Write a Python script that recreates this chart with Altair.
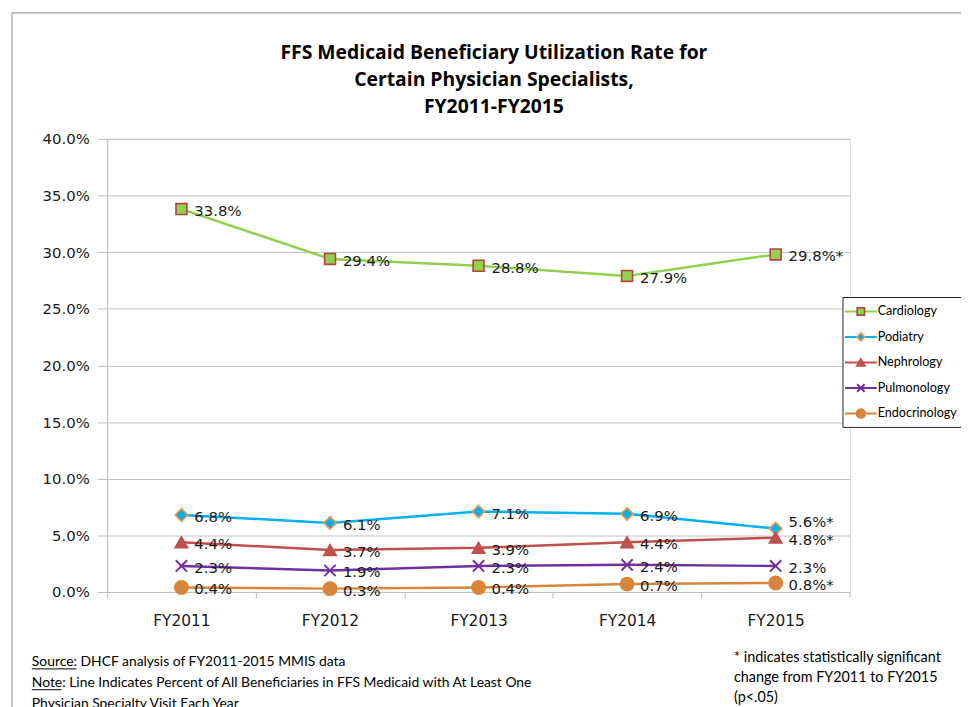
import altair as alt
import pandas as pd

# ---------------- data ----------------
years = ["FY2011", "FY2012", "FY2013", "FY2014", "FY2015"]
series = ["Cardiology", "Podiatry", "Nephrology", "Pulmonology", "Endocrinology"]
cardiology = [33.8, 29.4, 28.8, 27.9, 29.8]
podiatry = [6.8, 6.1, 7.1, 6.9, 5.6]
nephrology = [4.4, 3.7, 3.9, 4.4, 4.8]
pulmonology = [2.3, 1.9, 2.3, 2.4, 2.3]
endocrinology = [0.4, 0.3, 0.4, 0.7, 0.8]
significant = [True, True, True, False, True]   # change FY2011 -> FY2015 (p<.05)
y_ticks = [0, 5, 10, 15, 20, 25, 30, 35, 40]

title_lines = ["FFS Medicaid Beneficiary Utilization Rate for",
               "Certain Physician Specialists,",
               "FY2011-FY2015"]
source_lines = ["Source: DHCF analysis of FY2011-2015 MMIS data",
                "Note: Line Indicates Percent of All Beneficiaries in FFS Medicaid with At Least One",
                "Physician Specialty Visit Each Year"]
star_lines = ["* indicates statistically significant",
              "change from FY2011 to FY2015",
              "(p<.05)"]

# ---------------- styles ----------------
line_colors = ["#92D050", "#00B0F0", "#C0504D", "#7030A0", "#D8853B"]
marker_fill = ["#92D050", "#00B0F0", "#C0504D", None, "#D8853B"]
marker_stroke = ["#B5433F", "#F79646", "#C0504D", "#7030A0", "#D8853B"]
marker_shape = ["square", "diamond", "triangle-up", "M-1,-1L1,1M-1,1L1,-1", "circle"]
marker_size = [121, 160, 160, 130, 180]
legend_marker_size = [56, 64, 70, 56, 80]

W, H = 749, 457
GRID = "#BFBFBF"
LABEL_FONT = "DejaVu Sans"
NOTE_FONT = "Lato"
TITLE_FONT = "Open Sans"

values = [cardiology, podiatry, nephrology, pulmonology, endocrinology]
rows = []
for s, vals in zip(series, values):
    for j, (yr, v) in enumerate(zip(years, vals)):
        star = "*" if (j == len(years) - 1 and significant[series.index(s)]) else ""
        rows.append({"series": s, "year": yr, "value": v,
                     "label": f"{v:.1f}%{star}"})
df = pd.DataFrame(rows)
ldf = pd.DataFrame({"series": series})
one = pd.DataFrame({"k": [0]})

color_enc = alt.Color("series:N", scale=alt.Scale(domain=series, range=line_colors), legend=None)

x_enc = alt.X("year:O", sort=years, title=None,
              scale=alt.Scale(type="point", padding=0.5),
              axis=alt.Axis(labelAngle=0, tickOffset=-W / 10, labelOffset=W / 10,
                            domainColor=GRID, tickColor=GRID, tickSize=6,
                            labelPadding=16, labelFont=LABEL_FONT, labelFontSize=15.5,
                            labelColor="#1a1a1a", grid=False))
y_enc = alt.Y("value:Q", title=None,
              scale=alt.Scale(domain=[0, 40], nice=False, zero=True),
              axis=alt.Axis(values=y_ticks, labelExpr="format(datum.value, '.1f') + '%'",
                            domainColor=GRID, tickColor=GRID, gridColor=GRID,
                            tickSize=10, labelPadding=8, labelFont=LABEL_FONT,
                            labelFontSize=15, labelColor="#1a1a1a", grid=True))

lines = alt.Chart(df).mark_line(strokeWidth=2.5).encode(
    x=x_enc, y=y_enc, color=color_enc, detail="series:N")


def marker_kw(i, size):
    kw = dict(shape=marker_shape[i], size=size, opacity=1,
              stroke=marker_stroke[i], strokeWidth=1.6 if i != 3 else 2)
    if marker_fill[i] is None:
        kw.update(filled=False, fill=None)
    else:
        kw.update(filled=True, fill=marker_fill[i])
    return kw


marker_layers = [
    alt.Chart(df).transform_filter(alt.datum.series == s)
    .mark_point(**marker_kw(i, marker_size[i])).encode(x=x_enc, y=y_enc)
    for i, s in enumerate(series)
]

is_shifted = (alt.datum.series == "Podiatry") & (alt.datum.year == years[-1])
labels = alt.Chart(df).transform_filter(~is_shifted).mark_text(
    align="left", baseline="middle", dx=13, dy=2, font=LABEL_FONT, fontSize=15,
    color="#1a1a1a").encode(x=x_enc, y=y_enc, text="label:N")
labels_up = alt.Chart(df).transform_filter(is_shifted).mark_text(
    align="left", baseline="middle", dx=13, dy=-7, font=LABEL_FONT, fontSize=15,
    color="#1a1a1a").encode(x=x_enc, y=y_enc, text="label:N")

# ---------------- decorations ----------------
FRAME = "#8C8C8C"
frame_top = alt.Chart(one).mark_rule(color=FRAME, strokeWidth=1).encode(
    x=alt.value(-96), x2=alt.value(W + 200), y=alt.value(-127))
frame_left = alt.Chart(one).mark_rule(color=FRAME, strokeWidth=1).encode(
    x=alt.value(-96), y=alt.value(-127), y2=alt.value(H + 200))
end_tick = alt.Chart(one).mark_rule(color=GRID).encode(
    x=alt.value(W), y=alt.value(H), y2=alt.value(H + 6))
title = alt.Chart(one).mark_text(
    font=TITLE_FONT, fontSize=19.5, fontWeight="bold", align="center",
    baseline="alphabetic", lineHeight=27.5, color="#000").encode(
    x=alt.value(390), y=alt.value(-81), text=alt.value(title_lines))
source = alt.Chart(one).mark_text(
    font=NOTE_FONT, fontSize=14, align="left", baseline="alphabetic",
    lineHeight=21, color="#000").encode(
    x=alt.value(-76), y=alt.value(532), text=alt.value(source_lines))
underline1 = alt.Chart(one).mark_rule(color="#000", strokeWidth=1).encode(
    x=alt.value(-76), x2=alt.value(-31), y=alt.value(534.5))
underline2 = alt.Chart(one).mark_rule(color="#000", strokeWidth=1).encode(
    x=alt.value(-76), x2=alt.value(-46), y=alt.value(555.5))
stars = alt.Chart(one).mark_text(
    font=NOTE_FONT, fontSize=14.5, align="left", baseline="alphabetic",
    lineHeight=20, color="#000").encode(
    x=alt.value(632), y=alt.value(528), text=alt.value(star_lines))

main = alt.layer(frame_top, frame_left, lines, *marker_layers, labels, labels_up,
                 end_tick, title, source, underline1, underline2, stars)

# ---------------- legend (drawn with marks, rows placed by a point scale) ----------------
ly = alt.Y("series:N", sort=series, axis=None,
           scale=alt.Scale(type="point", domain=series, range=[174, 277], padding=0))
BOX = "#222"
leg_fill = alt.Chart(one).mark_rect(fill="white", strokeWidth=0).encode(
    x=alt.value(742), x2=alt.value(W + 200), y=alt.value(160), y2=alt.value(291))
leg_top = alt.Chart(one).mark_rule(color=BOX, strokeWidth=1).encode(
    x=alt.value(742), x2=alt.value(W + 200), y=alt.value(160))
leg_bottom = alt.Chart(one).mark_rule(color=BOX, strokeWidth=1).encode(
    x=alt.value(742), x2=alt.value(W + 200), y=alt.value(291))
leg_left = alt.Chart(one).mark_rule(color=BOX, strokeWidth=1).encode(
    x=alt.value(742), y=alt.value(160), y2=alt.value(291))
leg_lines = alt.Chart(ldf).mark_rule(strokeWidth=2).encode(
    x=alt.value(744), x2=alt.value(776), y=ly, color=color_enc)
leg_markers = [
    alt.Chart(ldf).transform_filter(alt.datum.series == s)
    .mark_point(**marker_kw(i, legend_marker_size[i])).encode(x=alt.value(760), y=ly)
    for i, s in enumerate(series)
]
leg_text = alt.Chart(ldf).mark_text(
    align="left", baseline="middle", font=NOTE_FONT, fontSize=12.7, color="#000").encode(
    x=alt.value(777), y=ly, text="series:N")
legend = alt.layer(leg_fill, leg_top, leg_bottom, leg_left, leg_lines, *leg_markers, leg_text)

chart = alt.layer(main, legend).resolve_scale(
    x="independent", y="independent"
).properties(
    width=W, height=H,
    autosize=alt.AutoSizeParams(type="none"),
    padding={"left": 100, "top": 129, "right": 112, "bottom": 113},
).configure_view(stroke=None).configure(background="white")

chart.save("out.html", embed_options={"renderer": "svg", "actions": False})
